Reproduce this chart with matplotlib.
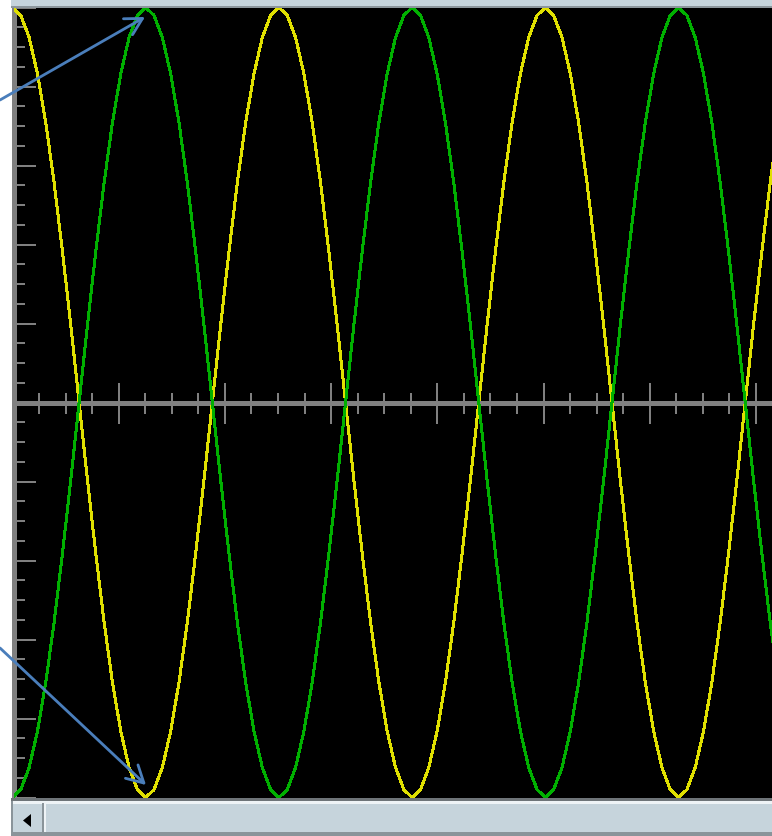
import numpy as np
import matplotlib
matplotlib.use("Agg")
import matplotlib.pyplot as plt
from matplotlib.patches import Rectangle, Polygon, FancyArrowPatch
from matplotlib.ticker import MultipleLocator, NullFormatter

# ---------------- data (vertical divisions) ----------------
sample_interval = 0.0784          # horizontal divisions between samples (timebase)
yellow = [
    5.00, 4.90, 4.62, 4.16, 3.54, 2.78, 1.91, 0.98, 0.00, -0.98, -1.91, -2.78, -3.54, -4.16, -4.62, -4.90,
    -5.00, -4.90, -4.62, -4.16, -3.54, -2.78, -1.91, -0.98, 0.00, 0.98, 1.91, 2.78, 3.54, 4.16, 4.62, 4.90,
    5.00, 4.90, 4.62, 4.16, 3.54, 2.78, 1.91, 0.98, 0.00, -0.98, -1.91, -2.78, -3.54, -4.16, -4.62, -4.90,
    -5.00, -4.90, -4.62, -4.16, -3.54, -2.78, -1.91, -0.98, 0.00, 0.98, 1.91, 2.78, 3.54, 4.16, 4.62, 4.90,
    5.00, 4.90, 4.62, 4.16, 3.54, 2.78, 1.91, 0.98, 0.00, -0.98, -1.91, -2.78, -3.54, -4.16, -4.62, -4.90,
    -5.00, -4.90, -4.62, -4.16, -3.54, -2.78, -1.91, -0.98, 0.00, 0.98, 1.91, 2.78, 3.54,
]
green = [
    -5.00, -4.90, -4.62, -4.16, -3.54, -2.78, -1.91, -0.98, 0.00, 0.98, 1.91, 2.78, 3.54, 4.16, 4.62, 4.90,
    5.00, 4.90, 4.62, 4.16, 3.54, 2.78, 1.91, 0.98, 0.00, -0.98, -1.91, -2.78, -3.54, -4.16, -4.62, -4.90,
    -5.00, -4.90, -4.62, -4.16, -3.54, -2.78, -1.91, -0.98, 0.00, 0.98, 1.91, 2.78, 3.54, 4.16, 4.62, 4.90,
    5.00, 4.90, 4.62, 4.16, 3.54, 2.78, 1.91, 0.98, 0.00, -0.98, -1.91, -2.78, -3.54, -4.16, -4.62, -4.90,
    -5.00, -4.90, -4.62, -4.16, -3.54, -2.78, -1.91, -0.98, 0.00, 0.98, 1.91, 2.78, 3.54, 4.16, 4.62, 4.90,
    5.00, 4.90, 4.62, 4.16, 3.54, 2.78, 1.91, 0.98, 0.00, -0.98, -1.91, -2.78, -3.54,
]
t = np.arange(len(yellow)) * sample_interval

# ---------------- figure ----------------
W, H = 772, 836
DPI = 100
fig = plt.figure(figsize=(W / DPI, H / DPI), dpi=DPI, facecolor="white")

def px2pt(p):
    return p * 72.0 / DPI

GRAY = "#808080"

# main scope axes (pixel box: left 13.5, right 772, top 7, bottom 798)
left_px, right_px, top_px, bot_px = 13.5, 772, 7, 798
ax = fig.add_axes([left_px / W, (H - bot_px) / H, (right_px - left_px) / W, (bot_px - top_px) / H])
ax.set_facecolor("black")
x0_px = 12.5
div_x = 106.2
div_y = 79.0
center_y = 402.5
ax.set_xlim((left_px - x0_px) / div_x, (right_px - x0_px) / div_x)
ax.set_ylim(-(bot_px - center_y) / div_y, (center_y - top_px) / div_y)

for s in ("top", "right"):
    ax.spines[s].set_visible(False)
ax.spines["left"].set_color(GRAY)
ax.spines["left"].set_linewidth(px2pt(5))
ax.spines["bottom"].set_position(("data", 0))
ax.spines["bottom"].set_color(GRAY)
ax.spines["bottom"].set_linewidth(px2pt(5))

ax.xaxis.set_major_locator(MultipleLocator(1))
ax.xaxis.set_minor_locator(MultipleLocator(0.25))
ax.yaxis.set_major_locator(MultipleLocator(1))
ax.yaxis.set_minor_locator(MultipleLocator(0.25))
ax.xaxis.set_major_formatter(NullFormatter())
ax.yaxis.set_major_formatter(NullFormatter())
ax.tick_params(axis="x", which="major", direction="inout", length=px2pt(41), width=px2pt(2), color=GRAY)
ax.tick_params(axis="x", which="minor", direction="inout", length=px2pt(21), width=px2pt(2), color=GRAY)
ax.tick_params(axis="y", which="major", direction="in", length=px2pt(21.5), width=px2pt(2), color=GRAY)
ax.tick_params(axis="y", which="minor", direction="in", length=px2pt(10.5), width=px2pt(2), color=GRAY)

ax.plot(t, yellow, color="#e0e000", lw=px2pt(2.0), antialiased=False, zorder=3, solid_joinstyle="miter")
ax.plot(t, green, color="#00b000", lw=px2pt(2.0), antialiased=False, zorder=4, solid_joinstyle="miter")

# ---------------- overlay in pixel coordinates (window chrome + arrows) ----------------
ov = fig.add_axes([0, 0, 1, 1], zorder=10)
ov.set_xlim(0, W)
ov.set_ylim(H, 0)
ov.axis("off")
ov.patch.set_alpha(0)

BAR = "#c6d4dc"
# top strip
ov.add_patch(Rectangle((11, 0), W - 11, 7, color=BAR, lw=0))
ov.add_patch(Rectangle((11, 6), W - 11, 1.5, color="#8c969c", lw=0))
# bottom scrollbar
ov.add_patch(Rectangle((11, 798), W - 11, 38, color=BAR, lw=0))
ov.add_patch(Rectangle((11, 798), W - 11, 3, color="#6e7478", lw=0))
ov.add_patch(Rectangle((11, 801), W - 11, 2.5, color="#eef3f6", lw=0))
ov.add_patch(Rectangle((11, 832), W - 11, 4, color="#8a949a", lw=0))
ov.add_patch(Rectangle((11, 801), 2, 35, color="#8a949a", lw=0))
ov.add_patch(Rectangle((42, 803), 2, 29, color="#8a949a", lw=0))
ov.add_patch(Rectangle((44, 803.5), 2, 28.5, color="#eef3f6", lw=0))
ov.add_patch(Polygon([(23, 820.5), (31, 814), (31, 827)], closed=True, color="black", lw=0))

# annotation arrows
ARROW = "#4a7ebb"
for (xa, ya), (xb, yb) in [((0, 100), (145, 17)), ((0, 648), (146, 785))]:
    arr = FancyArrowPatch((xa, ya), (xb, yb), arrowstyle="->,head_length=0.6,head_width=0.33",
                          mutation_scale=20, color=ARROW, lw=px2pt(2.8),
                          shrinkA=0, shrinkB=0, transform=ov.transData)
    ov.add_patch(arr)

fig.savefig("out.png", dpi=DPI, facecolor="white")
